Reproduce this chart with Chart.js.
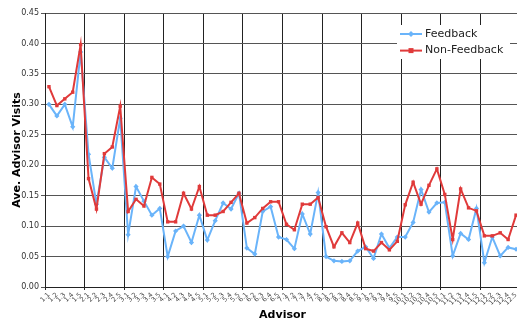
<!DOCTYPE html>
<html>
<head>
<meta charset="utf-8">
<script src="https://cdn.jsdelivr.net/npm/chart.js@4"></script>
<style>
  html, body { margin: 0; padding: 0; background: #fff; overflow: hidden; }
  #frame { width: 517px; height: 325px; overflow: hidden; position: relative; }
  #wrap { width: 524px; height: 325px; position: relative; }
</style>
</head>
<body>
<div id="frame"><div id="wrap"><canvas id="grafico"></canvas></div></div>
<script>
// advisors: 12 groups x 5
const advisors = [];
for (let g = 1; g <= 12; g++) {
  for (let a = 1; a <= 5; a++) advisors.push(g + '.' + a);
}

const feedback = [
  0.300, 0.281, 0.300, 0.263, 0.386,
  0.218, 0.136, 0.213, 0.195, 0.277,
  0.086, 0.165, 0.141, 0.118, 0.129,
  0.050, 0.092, 0.100, 0.073, 0.118,
  0.077, 0.109, 0.138, 0.128, 0.154,
  0.064, 0.054, 0.124, 0.132, 0.082,
  0.078, 0.063, 0.120, 0.087, 0.155,
  0.050, 0.043, 0.042, 0.043, 0.059,
  0.066, 0.047, 0.087, 0.064, 0.082,
  0.082, 0.106, 0.160, 0.123, 0.138,
  0.139, 0.051, 0.088, 0.078, 0.129,
  0.040, 0.082, 0.051, 0.065, 0.062
];

const nonFeedback = [
  0.329, 0.298, 0.309, 0.320, 0.398,
  0.178, 0.128, 0.219, 0.230, 0.297,
  0.124, 0.144, 0.133, 0.180, 0.169,
  0.107, 0.107, 0.154, 0.128, 0.165,
  0.118, 0.118, 0.124, 0.139, 0.154,
  0.105, 0.114, 0.129, 0.140, 0.140,
  0.103, 0.094, 0.136, 0.136, 0.147,
  0.099, 0.066, 0.089, 0.073, 0.105,
  0.063, 0.059, 0.073, 0.061, 0.075,
  0.135, 0.172, 0.136, 0.167, 0.194,
  0.152, 0.078, 0.161, 0.130, 0.125,
  0.084, 0.084, 0.089, 0.078, 0.118
];

const seriesNames = ['Feedback', 'Non-Feedback'];
const blue = '#6AB4FA';
const red = '#E03A3A';
const fontFamily = '"DejaVu Sans", Verdana, sans-serif';

// legend drawn inside the plot, top right, like the original
const legendInside = {
  id: 'legendInside',
  afterDraw(chart) {
    const c = chart.ctx;
    const items = [
      { label: seriesNames[0], color: blue, shape: 'diamond' },
      { label: seriesNames[1], color: red, shape: 'square' }
    ];
    c.save();
    c.fillStyle = '#fff';
    c.fillRect(397, 25, 113, 34);
    items.forEach((it, i) => {
      const y = 34 + i * 16.6;
      c.strokeStyle = it.color;
      c.lineWidth = 2;
      c.beginPath();
      c.moveTo(400, y);
      c.lineTo(422, y);
      c.stroke();
      c.fillStyle = it.color;
      c.beginPath();
      if (it.shape === 'diamond') {
        c.moveTo(411, y - 3); c.lineTo(414, y); c.lineTo(411, y + 3); c.lineTo(408, y);
      } else {
        c.rect(408.5, y - 2.5, 5, 5);
      }
      c.fill();
      c.fillStyle = '#222';
      c.font = '11px ' + fontFamily;
      c.textBaseline = 'middle';
      c.textAlign = 'left';
      c.fillText(it.label, 425, y);
    });
    c.restore();
  }
};

const ctx = document.getElementById('grafico');
new Chart(ctx, {
  type: 'line',
  data: {
    labels: advisors,
    datasets: [{
      label: seriesNames[0],
      data: feedback,
      borderColor: blue,
      backgroundColor: blue,
      borderWidth: 2,
      pointStyle: 'rectRot',
      pointRadius: 2.6,
      pointBorderWidth: 0,
      tension: 0,
      order: 1
    }, {
      label: seriesNames[1],
      data: nonFeedback,
      borderColor: red,
      backgroundColor: red,
      borderWidth: 2,
      pointStyle: 'rect',
      pointRadius: 2.4,
      pointBorderWidth: 0,
      tension: 0,
      order: 0
    }]
  },
  options: {
    responsive: true,
    maintainAspectRatio: false,
    animation: false,
    layout: { padding: { top: 13, right: 3, left: 0, bottom: 0 } },
    plugins: {
      legend: { display: false },
      tooltip: { enabled: false }
    },
    scales: {
      x: {
        offset: true,
        grid: {
          offset: true,
          color: (c) => (c.index % 5 === 0 ? '#222' : 'rgba(0,0,0,0)'),
          lineWidth: 1,
          tickLength: 3
        },
        border: { color: '#222', width: 1 },
        ticks: {
          autoSkip: false,
          maxRotation: 45,
          minRotation: 45,
          padding: 1,
          color: '#444',
          font: { family: fontFamily, size: 6.5 }
        },
        title: {
          display: true,
          text: 'Advisor',
          color: '#000',
          padding: { top: 0, bottom: 3 },
          font: { family: fontFamily, size: 11, weight: 'bold' }
        },
        afterFit: (s) => { s.height = 38; }
      },
      y: {
        min: 0,
        max: 0.45,
        grid: {
          color: '#555',
          lineWidth: 1,
          tickLength: 4
        },
        border: { color: '#222', width: 1 },
        ticks: {
          stepSize: 0.05,
          padding: 2,
          color: '#333',
          font: { family: fontFamily, size: 8 },
          callback: (v) => v.toFixed(2)
        },
        title: {
          display: true,
          text: 'Ave. Advisor Visits',
          color: '#000',
          padding: { top: 11, bottom: 0 },
          font: { family: fontFamily, size: 11, weight: 'bold' }
        },
        afterFit: (s) => { s.width = 45; }
      }
    }
  },
  plugins: [legendInside]
});
</script>
</body>
</html>
